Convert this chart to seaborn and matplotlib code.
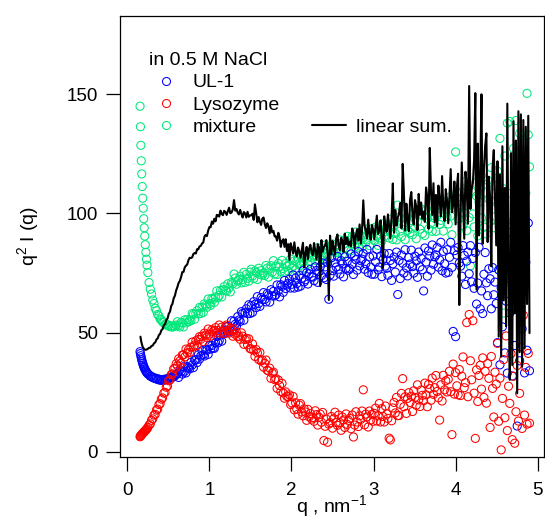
import numpy as np
import matplotlib
matplotlib.use("Agg")
import matplotlib.pyplot as plt
import seaborn as sns
from matplotlib.lines import Line2D

# q grid (nm^-1)
q_low = [0.155, 0.160, 0.165, 0.170, 0.176, 0.182, 0.188, 0.194, 0.200, 0.206,
         0.212, 0.219, 0.226, 0.233, 0.240, 0.250]
q_mid = [0.265, 0.280, 0.295, 0.310, 0.325, 0.340, 0.355, 0.370, 0.385, 0.400,
         0.415, 0.430, 0.445, 0.460, 0.475, 0.490, 0.505, 0.520, 0.535, 0.550,
         0.565, 0.580, 0.595]
q_high = [
    0.610, 0.625, 0.640, 0.655, 0.670, 0.685, 0.700, 0.715, 0.730, 0.745,
    0.760, 0.775, 0.790, 0.805, 0.820, 0.835, 0.850, 0.865, 0.880, 0.895,
    0.910, 0.925, 0.940, 0.955, 0.970, 0.985, 1.000, 1.015, 1.030, 1.045,
    1.060, 1.075, 1.090, 1.105, 1.120, 1.135, 1.150, 1.165, 1.180, 1.195,
    1.210, 1.225, 1.240, 1.255, 1.270, 1.285, 1.300, 1.315, 1.330, 1.345,
    1.360, 1.375, 1.390, 1.405, 1.420, 1.435, 1.450, 1.465, 1.480, 1.495,
    1.510, 1.525, 1.540, 1.555, 1.570, 1.585, 1.600, 1.615, 1.630, 1.645,
    1.660, 1.675, 1.690, 1.705, 1.720, 1.735, 1.750, 1.765, 1.780, 1.795,
    1.810, 1.825, 1.840, 1.855, 1.870, 1.885, 1.900, 1.915, 1.930, 1.945,
    1.960, 1.975, 1.990, 2.005, 2.020, 2.035, 2.050, 2.065, 2.080, 2.095,
    2.110, 2.125, 2.140, 2.155, 2.170, 2.185, 2.200, 2.215, 2.230, 2.245,
    2.260, 2.275, 2.290, 2.305, 2.320, 2.335, 2.350, 2.365, 2.380, 2.395,
    2.410, 2.425, 2.440, 2.455, 2.470, 2.485, 2.500, 2.515, 2.530, 2.545,
    2.560, 2.575, 2.590, 2.605, 2.620, 2.635, 2.650, 2.665, 2.680, 2.695,
    2.710, 2.725, 2.740, 2.755, 2.770, 2.785, 2.800, 2.815, 2.830, 2.845,
    2.860, 2.875, 2.890, 2.905, 2.920, 2.935, 2.950, 2.965, 2.980, 2.995,
    3.010, 3.025, 3.040, 3.055, 3.070, 3.085, 3.100, 3.115, 3.130, 3.145,
    3.160, 3.175, 3.190, 3.205, 3.220, 3.235, 3.250, 3.265, 3.280, 3.295,
    3.310, 3.325, 3.340, 3.355, 3.370, 3.385, 3.400, 3.415, 3.430, 3.445,
    3.460, 3.475, 3.490, 3.505, 3.520, 3.535, 3.550, 3.565, 3.580, 3.595,
    3.610, 3.625, 3.640, 3.655, 3.670, 3.685, 3.700, 3.715, 3.730, 3.745,
    3.760, 3.775, 3.790, 3.805, 3.820, 3.835, 3.850, 3.865, 3.880, 3.895,
    3.910, 3.925, 3.940, 3.955, 3.970, 3.985, 4.000, 4.015, 4.030, 4.045,
    4.060, 4.075, 4.090, 4.105, 4.120, 4.135, 4.150, 4.165, 4.180, 4.195,
    4.210, 4.225, 4.240, 4.255, 4.270, 4.285, 4.300, 4.315, 4.330, 4.345,
    4.360, 4.375, 4.390, 4.405, 4.420, 4.435, 4.450, 4.465, 4.480, 4.495,
    4.510, 4.525, 4.540, 4.555, 4.570, 4.585, 4.600, 4.615, 4.630, 4.645,
    4.660, 4.675, 4.690, 4.705, 4.720, 4.735, 4.750, 4.765, 4.780, 4.795,
    4.810, 4.825, 4.840, 4.855, 4.870, 4.885, 4.900]

# q^2 I(q) for UL-1
ul1 = [
    42.0, 41.2, 40.3, 39.5, 38.6, 37.8, 37.1, 36.4, 35.8, 35.3,
    34.8, 34.3, 33.9, 33.5, 33.1, 32.7,
    32.3, 31.7, 31.6, 31.1, 31.1, 30.7, 30.8, 30.3, 30.5, 30.0,
    30.3, 29.9, 30.4, 30.1, 30.6, 30.4, 31.0, 30.8, 31.4, 31.2,
    31.9, 31.8, 32.5,
    32.9, 31.2, 34.3, 33.6, 32.6, 35.7, 33.8, 33.1, 35.7, 35.2,
    34.8, 37.5, 36.4, 35.3, 38.6, 38.5, 37.4, 40.7, 38.9, 40.2,
    42.4, 40.7, 40.2, 42.9, 42.6, 40.9, 44.6, 43.1, 44.6, 43.6,
    43.4, 45.8, 48.4, 45.7, 46.7, 49.0, 46.4, 49.5, 51.0, 49.7,
    50.9, 52.6, 50.3, 51.8, 55.0, 51.4, 54.8, 53.5, 52.8, 56.7,
    55.3, 54.7, 58.8, 58.1, 55.2, 58.5, 60.0, 58.0, 61.7, 58.0,
    61.4, 58.5, 63.0, 61.9, 60.5, 65.1, 62.2, 61.0, 64.7, 63.9,
    66.8, 63.9, 62.9, 66.4, 65.7, 62.8, 68.0, 65.4, 67.3, 65.4,
    65.9, 70.0, 67.6, 65.0, 70.1, 69.4, 66.9, 71.9, 68.5, 70.0,
    70.7, 72.4, 68.7, 70.3, 74.2, 68.7, 72.9, 70.6, 69.1, 74.0,
    69.5, 72.8, 76.0, 71.3, 72.2, 75.1, 70.4, 74.7, 76.5, 73.6,
    73.3, 71.8, 77.6, 76.1, 71.1, 75.6, 77.6, 73.9, 79.2, 73.0,
    77.6, 72.3, 79.4, 64.0, 74.2, 81.4, 76.0, 73.7, 79.3, 77.5,
    82.0, 76.6, 74.6, 80.2, 78.8, 73.4, 81.8, 77.0, 79.9, 76.2,
    76.8, 83.0, 78.7, 74.4, 82.2, 80.6, 76.2, 84.0, 78.0, 80.2,
    80.8, 83.2, 76.6, 78.9, 84.9, 75.2, 81.8, 77.5, 74.5, 82.2,
    74.5, 79.7, 84.9, 76.3, 77.5, 82.1, 73.5, 80.6, 83.2, 77.9,
    77.0, 74.1, 83.2, 80.3, 71.9, 78.9, 81.7, 75.4, 83.8, 66.0,
    80.3, 72.7, 82.6, 79.1, 75.0, 84.8, 77.2, 73.8, 81.5, 78.8,
    84.6, 77.7, 75.0, 82.1, 80.1, 73.2, 83.8, 77.6, 81.2, 76.4,
    67.5, 85.5, 79.6, 73.7, 84.3, 82.1, 76.2, 86.8, 78.7, 81.8,
    82.6, 85.7, 77.5, 80.5, 87.9, 76.0, 84.1, 78.9, 75.0, 84.8,
    75.3, 81.6, 87.9, 77.4, 50.5, 84.4, 48.3, 82.6, 85.7, 79.2,
    77.9, 73.7, 86.5, 82.4, 70.2, 80.0, 83.8, 74.7, 86.5, 71.3,
    81.1, 68.6, 83.6, 62.0, 70.8, 85.8, 60.0, 67.5, 58.0, 74.5,
    83.6, 70.9, 65.5, 76.8, 72.6, 60.0, 77.3, 65.9, 71.2, 62.2,
    45.8, 76.3, 36.5, 68.9, 52.4, 84.6, 41.5, 63.2, 33.0, 72.7,
    58.2, 92.1, 31.8, 74.5, 44.6, 99.3, 10.8, 66.9, 38.2, 86.4,
    51.6, 104.6, 33.1, 79.5, 42.6, 96.0, 34.0]

# q^2 I(q) for Lysozyme
lyso = [
    6.3, 6.6, 6.8, 7.0, 7.3, 7.5, 7.8, 8.0, 8.2, 8.4,
    8.6, 8.9, 9.1, 9.4, 9.7, 10.2,
    11.2, 11.7, 13.2, 13.8, 15.4, 15.7, 17.5, 17.9, 19.8, 20.2,
    22.1, 22.6, 24.6, 24.9, 27.1, 27.6, 29.8, 30.2, 32.4, 32.7,
    34.8, 35.0, 36.9,
    36.1, 39.0, 38.1, 37.2, 40.6, 40.7, 39.8, 43.1, 41.5, 42.8,
    41.7, 43.9, 46.0, 44.0, 44.8, 46.6, 44.5, 47.1, 48.3, 47.2,
    48.5, 46.3, 49.8, 49.0, 48.0, 51.5, 49.4, 48.5, 51.1, 50.4,
    51.0, 52.1, 49.9, 50.9, 53.2, 49.8, 52.3, 50.7, 49.6, 52.5,
    53.2, 50.9, 49.8, 51.8, 50.9, 48.5, 51.6, 49.3, 50.1, 48.3,
    48.5, 47.2, 49.9, 48.5, 45.1, 47.1, 47.6, 44.9, 47.4, 43.3,
    43.1, 45.3, 42.6, 40.0, 42.9, 41.5, 38.7, 41.7, 38.1, 38.5,
    35.5, 37.1, 38.5, 34.2, 33.9, 35.1, 30.8, 33.0, 33.4, 30.3,
    30.7, 26.6, 30.1, 27.8, 25.3, 28.7, 24.7, 22.5, 25.1, 23.2,
    23.2, 23.9, 19.8, 20.5, 23.2, 17.6, 20.6, 17.9, 15.8, 19.6,
    20.2, 16.7, 15.1, 18.0, 16.7, 13.2, 17.8, 14.7, 16.1, 13.7,
    14.4, 12.8, 17.2, 15.6, 11.2, 14.5, 15.8, 12.4, 16.5, 4.7,
    10.7, 13.7, 4.0, 11.6, 12.2, 14.8, 9.9, 13.9, 16.6, 12.3,
    11.1, 15.4, 12.2, 9.0, 14.6, 13.4, 10.2, 15.9, 11.5, 13.2,
    14.0, 9.7, 15.4, 6.2, 11.2, 16.8, 12.5, 10.6, 15.1, 13.6,
    17.1, 26.0, 11.3, 15.8, 14.6, 10.4, 17.1, 13.3, 15.7, 12.8,
    16.1, 18.3, 12.9, 15.1, 20.3, 12.5, 18.1, 14.8, 12.5, 19.2,
    15.9, 14.0, 5.7, 5.0, 13.0, 18.4, 20.7, 16.3, 22.8, 15.2,
    15.2, 19.9, 24.5, 30.7, 18.9, 23.1, 16.1, 22.4, 24.8, 20.7,
    23.3, 16.9, 25.6, 22.8, 19.5, 28.1, 21.8, 19.0, 25.9, 23.7,
    21.4, 28.8, 23.9, 18.9, 28.3, 26.5, 21.6, 30.9, 24.1, 26.9,
    32.0, 25.3, 22.7, 13.3, 28.1, 21.3, 32.1, 26.0, 29.8, 25.1,
    30.4, 33.8, 25.2, 7.2, 36.8, 24.2, 33.2, 27.7, 23.9, 34.5,
    23.6, 31.7, 39.8, 26.9, 29.0, 54.2, 23.1, 57.6, 38.2, 30.2,
    55.0, 24.6, 5.6, 34.4, 21.1, 32.0, 36.3, 26.3, 39.4, 22.8,
    33.8, 20.4, 37.0, 30.8, 10.2, 40.0, 26.6, 14.6, 33.4, 28.4,
    45.5, 12.8, 30.9, 0.8, 22.4, 38.7, 14.3, 48.6, 8.9, 27.5,
    20.3, 41.2, 5.1, 31.7, 3.6, 16.8, 36.2, 12.9, 24.5, 44.0,
    9.8, 57.3, 15.4, 35.4, 11.6, 41.3, 12.0]

# q^2 I(q) for the mixture
mix = [
    145.0, 136.4, 128.6, 122.1, 116.6, 111.3, 106.4, 102.2, 97.8, 94.0,
    90.5, 86.9, 83.7, 80.8, 78.3, 75.2,
    71.0, 68.2, 66.2, 63.7, 62.2, 60.2, 59.2, 57.6, 57.0, 55.7,
    55.4, 54.4, 54.3, 53.5, 53.6, 52.9, 53.1, 52.5, 52.8, 52.3,
    52.8, 52.6, 53.2,
    54.6, 52.9, 52.4, 54.3, 54.0, 52.4, 55.4, 54.1, 55.4, 54.5,
    55.4, 55.0, 58.0, 57.6, 55.6, 58.0, 59.2, 57.8, 60.6, 58.0,
    60.6, 58.5, 62.1, 61.4, 60.6, 64.1, 62.2, 61.5, 64.4, 63.9,
    62.7, 65.0, 67.5, 64.7, 65.6, 67.7, 65.0, 68.0, 69.3, 67.8,
    67.4, 70.5, 68.8, 67.1, 71.1, 70.6, 74.6, 72.9, 70.3, 71.7,
    72.3, 73.7, 70.9, 72.3, 75.3, 71.1, 74.5, 72.8, 71.6, 75.4,
    76.6, 73.8, 72.7, 75.9, 75.2, 72.3, 77.0, 74.4, 76.0, 74.1,
    75.1, 74.0, 78.2, 77.1, 73.3, 76.7, 78.1, 75.3, 80.2, 74.6,
    77.9, 74.4, 79.0, 77.5, 75.7, 80.3, 76.9, 75.4, 79.0, 77.8,
    75.8, 78.3, 80.9, 77.1, 77.9, 80.1, 76.4, 79.9, 81.2, 79.0,
    78.2, 82.0, 79.6, 77.1, 82.0, 81.2, 78.7, 83.5, 80.1, 81.6,
    82.3, 83.9, 80.3, 81.9, 85.6, 80.2, 84.2, 82.0, 80.4, 85.2,
    86.7, 83.1, 81.8, 85.8, 84.9, 81.3, 87.2, 84.0, 86.1, 83.6,
    84.9, 83.5, 88.9, 87.4, 82.8, 87.0, 88.8, 85.4, 90.4, 84.6,
    88.8, 84.3, 90.4, 88.4, 86.1, 92.2, 87.7, 85.8, 90.6, 89.0,
    86.0, 89.8, 93.6, 87.8, 88.9, 92.2, 86.5, 91.6, 93.6, 90.1,
    88.6, 94.3, 90.4, 86.6, 93.7, 92.4, 88.5, 95.7, 90.3, 92.5,
    93.2, 95.6, 89.7, 92.1, 97.7, 89.1, 95.2, 91.6, 88.9, 103.5,
    98.4, 92.6, 90.3, 96.5, 94.8, 89.0, 98.1, 92.9, 96.0, 92.0,
    93.7, 91.1, 100.3, 97.7, 89.4, 96.6, 99.5, 93.4, 101.9, 91.6,
    98.9, 90.8, 101.4, 97.9, 93.5, 104.2, 96.0, 92.5, 100.8, 98.0,
    92.5, 99.1, 105.6, 95.4, 97.1, 102.9, 92.6, 101.6, 104.9, 98.7,
    95.6, 106.8, 98.9, 91.1, 105.2, 102.4, 125.8, 108.7, 97.8, 102.0,
    103.7, 109.1, 94.9, 100.3, 113.4, 92.8, 107.2, 98.3, 78.0, 109.0,
    99.8, 94.4, 112.7, 107.3, 90.6, 104.8, 110.5, 98.1, 115.0, 94.2,
    108.9, 91.4, 113.9, 106.0, 96.6, 119.2, 101.8, 94.0, 111.6, 105.5,
    117.8, 76.4, 131.5, 89.3, 110.6, 58.2, 124.1, 96.7, 137.9, 71.3,
    138.6, 108.5, 66.2, 127.3, 94.8, 139.0, 115.4, 82.1, 133.6, 101.2,
    120.3, 87.5, 129.5, 108.5, 150.4, 133.0, 119.6]

# linear sum UL-1 + Lysozyme, starts at the second q point
lin_sum = [
    48.3, 47.2, 46.2, 45.3, 44.6, 44.0, 43.6, 43.3, 43.0,
    42.9, 42.8, 42.8, 42.9, 43.0, 43.2,
    43.6, 43.7, 44.4, 44.6, 45.5, 45.9, 47.1, 47.6, 49.0, 49.5,
    51.0, 51.5, 53.1, 53.6, 55.3, 55.9, 57.9, 58.8, 61.2, 62.1,
    64.4, 65.5, 67.7,
    69.1, 70.9, 71.7, 73.3, 75.4, 75.5, 77.4, 78.1, 78.6, 80.4,
    81.4, 81.3, 81.6, 83.0, 83.4, 83.2, 85.0, 85.0, 86.2, 86.4,
    87.4, 87.8, 90.3, 91.0, 90.5, 92.8, 94.3, 94.2, 96.6, 95.7,
    97.8, 96.7, 99.4, 99.2, 98.7, 101.2, 99.8, 99.3, 101.1, 100.6,
    99.4, 101.0, 102.4, 100.1, 100.4, 101.7, 105.6, 101.2, 101.9, 100.3,
    99.6, 101.5, 99.8, 98.3, 100.6, 100.0, 98.3, 100.7, 98.6, 99.2,
    99.2, 99.9, 97.3, 103.8, 100.0, 96.3, 98.5, 96.6, 95.2, 97.8,
    98.3, 95.4, 93.9, 95.9, 94.7, 91.7, 94.8, 92.1, 92.7, 90.4,
    90.4, 88.6, 91.9, 90.1, 86.0, 88.5, 89.2, 86.0, 89.2, 84.3,
    87.1, 80.5, 87.5, 85.5, 83.2, 87.9, 83.8, 82.0, 85.7, 84.2,
    81.4, 84.5, 87.7, 77.4, 83.2, 86.0, 80.8, 85.2, 86.9, 83.7,
    82.5, 87.6, 84.1, 80.6, 87.1, 85.8, 69.5, 88.8, 84.0, 85.9,
    86.6, 88.8, 83.4, 63.7, 90.7, 82.9, 88.5, 85.2, 82.8, 89.5,
    91.2, 86.4, 84.6, 89.8, 88.5, 83.8, 91.5, 87.2, 89.9, 86.6,
    88.2, 86.2, 93.7, 91.7, 85.3, 91.0, 93.4, 88.6, 95.4, 87.4,
    93.1, 105.5, 95.1, 92.6, 89.5, 97.4, 91.5, 89.0, 95.2, 93.2,
    89.2, 94.1, 99.1, 91.4, 92.8, 97.1, 89.5, 77.2, 98.8, 94.1,
    92.3, 99.6, 94.6, 89.5, 98.8, 112.6, 91.9, 101.4, 94.9, 98.2,
    100.0, 104.4, 93.8, 120.8, 108.5, 92.8, 104.1, 97.4, 92.6, 105.8,
    109.0, 99.2, 95.4, 105.6, 102.8, 93.0, 108.2, 99.4, 104.6, 97.8,
    100.8, 96.5, 110.9, 106.7, 93.6, 127.5, 109.2, 99.4, 112.7, 96.3,
    107.8, 94.7, 111.7, 105.8, 98.8, 115.7, 102.7, 96.8, 110.2, 105.5,
    95.9, 107.2, 118.6, 100.5, 103.5, 113.4, 95.4, 110.9, 116.7, 61.6,
    99.2, 121.4, 105.3, 89.4, 117.5, 111.6, 95.7, 153.5, 101.9, 110.0,
    112.8, 122.3, 150.5, 68.0, 129.3, 90.8, 116.9, 150.0, 87.3, 118.5,
    128.4, 133.6, 88.0, 115.4, 106.4, 77.8, 119.2, 126.6, 106.8, 86.6,
    121.9, 48.3, 116.4, 39.9, 128.2, 63.5, 110.7, 52.7, 146.1, 72.4,
    30.2, 125.3, 36.4, 138.7, 58.1, 130.6, 24.5, 142.9, 41.8, 141.6,
    35.7, 139.2, 43.5, 136.4, 62.0, 141.0, 49.8]

q = np.array(q_low + q_mid + q_high)
assert len(ul1) == len(lyso) == len(mix) == len(q) == len(lin_sum) + 1

BLUE = "#0000FF"
RED = "#FF0000"
GREEN = "#00E87A"

sns.set_theme(style="white")
plt.rcParams.update({
    "axes.edgecolor": "black",
    "axes.linewidth": 0.9,
    "xtick.color": "black",
    "ytick.color": "black",
    "text.color": "black",
    "axes.labelcolor": "black",
    "mathtext.fontset": "custom",
    "mathtext.rm": "Liberation Sans",
    "mathtext.it": "Liberation Sans",
    "mathtext.default": "regular",
})
plt.rcParams["font.family"] = ["Liberation Sans", "DejaVu Sans"]

FS = 14
TFS = 13.5

fig = plt.figure(figsize=(5.45, 5.21), dpi=100)
ax = fig.add_axes([0.2202, 0.1228, 0.7780, 0.8471])

for vals, col in [(mix, GREEN), (ul1, BLUE), (lyso, RED)]:
    sns.scatterplot(x=q, y=vals, ax=ax, marker="o", s=34,
                    facecolor="none", edgecolor=col, linewidth=0.75,
                    legend=False, zorder=2)
ax.plot(q[1:], lin_sum, color="black", lw=1.5, zorder=3)

ax.set_xlim(-0.089, 5.077)
ax.set_ylim(-2.2, 183.0)
ax.set_xticks([0, 1, 2, 3, 4, 5])
ax.set_yticks([0, 50, 100, 150])
ax.tick_params(axis="both", direction="out", length=10, width=0.9,
               labelsize=TFS, bottom=True, left=True, top=False, right=False)
ax.tick_params(axis="x", pad=8)
ax.tick_params(axis="y", pad=6)
for sp in ax.spines.values():
    sp.set_visible(True)

ax.set_xlabel(r"q , nm$^{-1}$", fontsize=FS, labelpad=-4)
ax.set_ylabel(r"q$^{2}$ I (q)", fontsize=FS, labelpad=18)

blank = Line2D([], [], ls="none")
handles = [
    Line2D([], [], ls="none", marker="o", ms=5.8, mfc="none", mec=BLUE, mew=0.75),
    Line2D([], [], ls="none", marker="o", ms=5.8, mfc="none", mec=RED, mew=0.75),
    Line2D([], [], ls="none", marker="o", ms=5.8, mfc="none", mec=GREEN, mew=0.75),
    blank, blank,
    Line2D([], [], color="black", lw=1.5),
]
labels = ["UL-1", "Lysozyme", "mixture", "", "", "linear sum."]
ax.legend(handles, labels, ncol=2, title="in 0.5 M NaCl",
          title_fontsize=FS, fontsize=FS, alignment="left",
          loc="upper left", bbox_to_anchor=(0.068, 0.918),
          frameon=False, borderpad=0, borderaxespad=0,
          handlelength=1.75, handletextpad=0.5, columnspacing=1.66,
          labelspacing=0.25)

fig.savefig("out.png", dpi=100, facecolor="white")
